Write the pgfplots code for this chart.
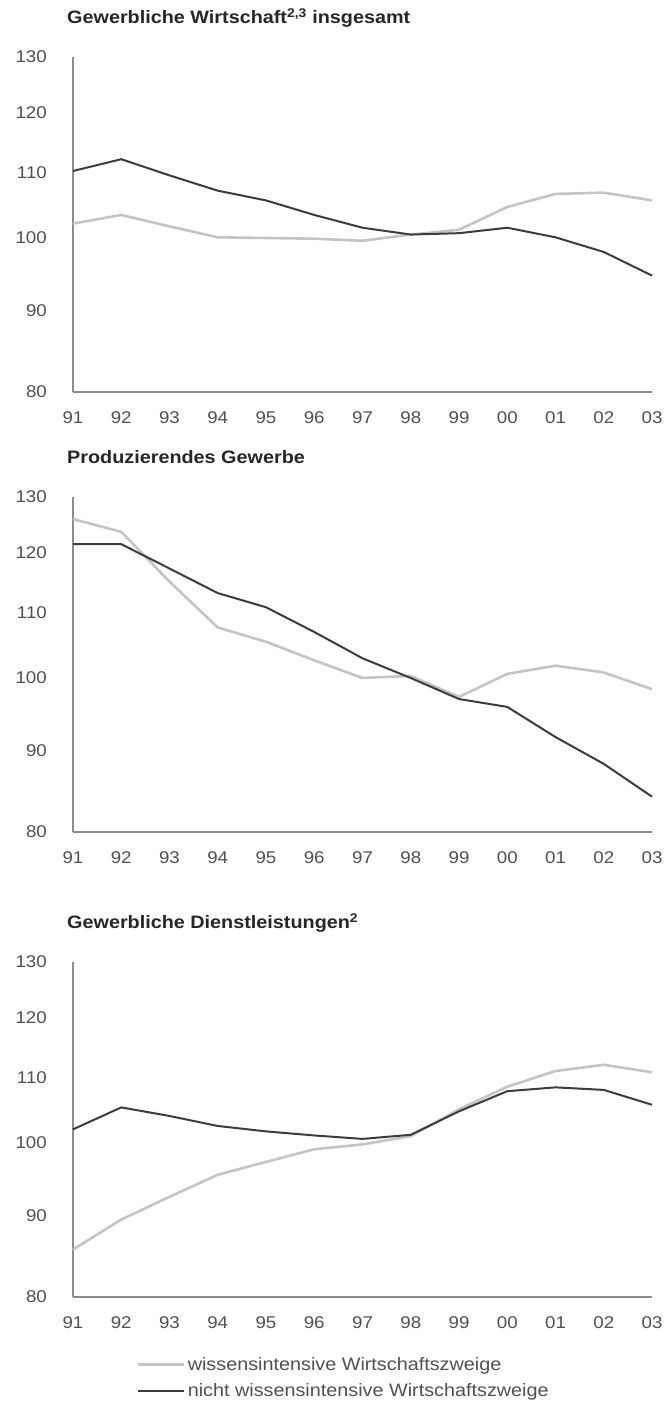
\documentclass[border=0pt]{standalone}
\usepackage{fontspec}
\setmainfont[FakeStretch=1.1]{Liberation Sans}
\usepackage{pgfplots}
\pgfplotsset{compat=1.18}

\definecolor{darkline}{HTML}{3C3C3C}
\definecolor{lightline}{HTML}{C4C4C4}
\definecolor{axisgray}{HTML}{8C8C8C}
\definecolor{labelgray}{HTML}{505050}

\pgfplotsset{
  panel/.style={
    scale only axis, width=579pt, height=335pt,
    anchor=north west,
    xmin=0, xmax=12, ymin=80, ymax=130,
    axis x line=bottom, axis y line=left,
    axis line style={axisgray, line width=1.2pt, -},
    xtick={0,...,12},
    xticklabels={91,92,93,94,95,96,97,98,99,00,01,02,03},
    ytick={80,90,100,110,120,130},
    yticklabels={80,90,100,110,120,130},
    major tick length=0pt,
    /pgf/number format/assume math mode=true,
    tick label style={font=\fontsize{17}{20}\selectfont, text=labelgray, inner sep=0pt},
    xticklabel style={anchor=center, yshift=-26pt},
    yticklabel style={anchor=east, xshift=-26pt},
    clip=false,
    title style={at={(rel axis cs:0,1)}, anchor=base west, xshift=-6pt, yshift=27pt,
      inner sep=0pt, font=\bfseries\fontsize{18}{21}\selectfont, text=black!85},
  },
  dark/.style={darkline, line width=2pt},
  light/.style={lightline, line width=2.6pt},
}

% x = 0 (1991) ... 12 (2003)
% panel 1: Gewerbliche Wirtschaft insgesamt
\pgfplotstableread{
x  wis   nwis
0  102.1 110.2
1  103.4 112.1
2  101.7 109.5
3  100.1 107.1
4  100.0 105.6
5  99.9  103.4
6  99.6  101.5
7  100.5 100.5
8  101.2 100.7
9  104.6 101.5
10 106.6 100.1
11 106.8 98.0
12 105.6 94.7
}\tabgesamt
% panel 2: Produzierendes Gewerbe
\pgfplotstableread{
x  wis   nwis
0  125.9 121.4
1  123.6 121.4
2  115.0 117.2
3  107.6 113.1
4  105.4 110.8
5  102.6 106.9
6  100.0 102.9
7  100.3 100.0
8  97.3  97.0
9  100.6 95.9
10 101.8 91.8
11 100.8 88.3
12 98.4  84.2
}\tabprod
% panel 3: Gewerbliche Dienstleistungen
\pgfplotstableread{
x  wis   nwis
0  85.7  102.0
1  89.5  105.3
2  92.5  104.0
3  95.5  102.5
4  97.3  101.7
5  99.1  101.1
6  99.8  100.6
7  101.0 101.2
8  105.0 104.7
9  108.5 107.8
10 111.0 108.4
11 112.0 108.0
12 110.8 105.7
}\tabdienst

\begin{document}
\begin{tikzpicture}
\path (0pt,0pt) rectangle (670pt,-1422pt);

\begin{axis}[ymode=log, panel, at={(73pt,-57pt)},
  title={Gewerbliche Wirtschaft\textsuperscript{2,3} insgesamt}]
\addplot[light] table[x=x, y=wis] {\tabgesamt};
\addplot[dark] table[x=x, y=nwis] {\tabgesamt};
\end{axis}

\begin{axis}[ymode=log, panel, at={(73pt,-497pt)},
  title={Produzierendes Gewerbe}]
\addplot[light] table[x=x, y=wis] {\tabprod};
\addplot[dark] table[x=x, y=nwis] {\tabprod};
\end{axis}

\begin{axis}[ymode=log, panel, at={(73pt,-962pt)},
  title={Gewerbliche Dienstleistungen\textsuperscript{2}},
  legend style={at={(rel axis cs:0.1105,0)}, anchor=north west, yshift=-58pt,
    draw=none, fill=none, inner sep=0pt, font=\fontsize{18}{21}\selectfont,
    text=labelgray, row sep=8pt},
  legend cell align=left,
  legend image code/.code={\draw[#1] (0pt,0pt) -- (46pt,0pt);}]
\addplot[light] table[x=x, y=wis] {\tabdienst};
\addlegendentry{wissensintensive Wirtschaftszweige}
\addplot[dark] table[x=x, y=nwis] {\tabdienst};
\addlegendentry{nicht wissensintensive Wirtschaftszweige}
\end{axis}
\end{tikzpicture}
\end{document}
